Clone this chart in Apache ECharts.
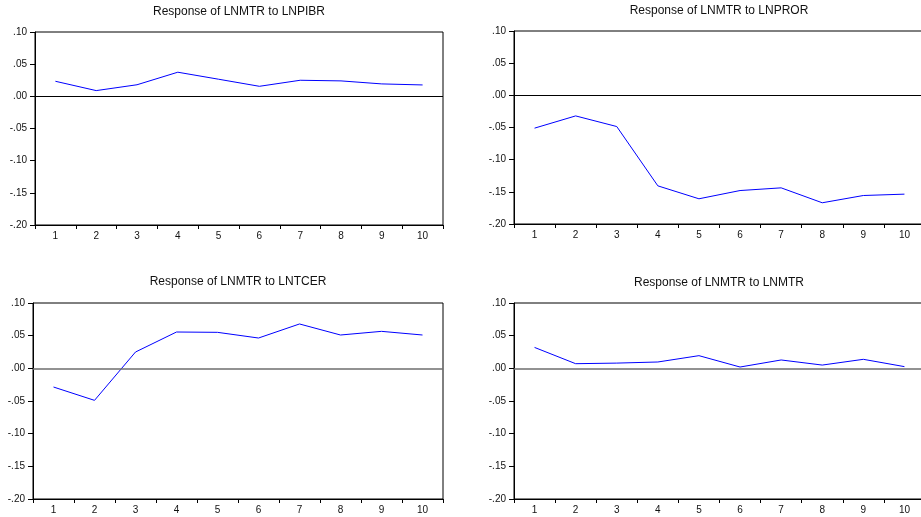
<!DOCTYPE html>
<html>
<head>
<meta charset="utf-8">
<script src="https://cdn.jsdelivr.net/npm/echarts@6/dist/echarts.min.js"></script>
<style>
html,body{margin:0;padding:0;background:#fff;}
#chart{width:921px;height:517px;}
</style>
</head>
<body>
<div id="chart"></div>
<script>
const periods = ['1','2','3','4','5','6','7','8','9','10'];
const titles = [
  'Response of LNMTR to LNPIBR',
  'Response of LNMTR to LNPROR',
  'Response of LNMTR to LNTCER',
  'Response of LNMTR to LNMTR'
];
const respPIBR = [0.0234, 0.0089, 0.018, 0.0375, 0.0266, 0.0156, 0.025, 0.024, 0.0193, 0.0177];
const respPROR = [-0.051, -0.032, -0.0485, -0.1407, -0.1608, -0.148, -0.1438, -0.167, -0.1557, -0.1536];
const respTCER = [-0.0286, -0.049, 0.025, 0.0556, 0.0551, 0.0464, 0.0679, 0.051, 0.0566, 0.051];
const respMTR = [0.032, 0.0071, 0.008, 0.0097, 0.0194, 0.002, 0.0128, 0.005, 0.0138, 0.0026];
const yMin = -0.20, yMax = 0.10, yStep = 0.05;

const seriesData = [respPIBR, respPROR, respTCER, respMTR];
const grids = [
  {left: 35, top: 32, width: 408, height: 193},
  {left: 514, top: 31, width: 411, height: 193},
  {left: 33, top: 303, width: 410, height: 196},
  {left: 514, top: 303, width: 411, height: 196}
];
const titlePos = [[239, 12], [719, 11], [238, 282], [719, 283]];
const zeroStyle = [
  {color: '#000', width: 1},
  {color: '#000', width: 1},
  {color: '#6e6e6e', width: 1.5},
  {color: '#6e6e6e', width: 1.5}
];
const FONT = '"Liberation Sans", Arial, sans-serif';

function fmt(v) {
  let s = (Math.round(v * 100) / 100).toFixed(2);
  if (s === '-0.00') s = '0.00';
  return s.replace(/^(-?)0\./, '$1.');
}

const chart = echarts.init(document.getElementById('chart'), null, {renderer: 'canvas'});
const option = {
  backgroundColor: '#fff',
  animation: false,
  grid: grids.map(g => Object.assign({show: true, borderColor: '#000', borderWidth: 1, backgroundColor: '#fff', outerBoundsMode: 'none', containLabel: false}, g)),
  xAxis: grids.map((g, i) => ({
    type: 'category',
    gridIndex: i,
    data: periods,
    boundaryGap: true,
    axisLine: {lineStyle: {color: '#000', width: 1}, onZero: false},
    axisTick: {show: true, length: 4, alignWithLabel: false, lineStyle: {color: '#000'}},
    axisLabel: {margin: 6, fontSize: 10, color: '#111', fontFamily: FONT, interval: 0},
    splitLine: {show: false}
  })),
  yAxis: grids.map((g, i) => ({
    type: 'value',
    gridIndex: i,
    min: yMin, max: yMax, interval: yStep,
    axisLine: {show: true, lineStyle: {color: '#000', width: 1}},
    axisTick: {show: true, length: 5, lineStyle: {color: '#000'}},
    axisLabel: {margin: 8, fontSize: 10, color: '#111', fontFamily: FONT, formatter: fmt},
    splitLine: {show: false}
  })),
  series: seriesData.map((d, i) => ({
    type: 'line',
    xAxisIndex: i,
    yAxisIndex: i,
    data: d,
    symbol: 'none',
    lineStyle: {color: '#0000ff', width: 1},
    markLine: {
      silent: true,
      symbol: 'none',
      label: {show: false},
      lineStyle: {type: 'solid', color: zeroStyle[i].color, width: zeroStyle[i].width},
      data: [{yAxis: 0}]
    }
  })),
  graphic: titles.map((t, i) => ({
    type: 'text',
    x: titlePos[i][0],
    y: titlePos[i][1],
    style: {text: t, fontSize: 12, fill: '#111', fontFamily: FONT, textAlign: 'center', textVerticalAlign: 'middle'}
  }))
};
chart.setOption(option);
</script>
</body>
</html>
